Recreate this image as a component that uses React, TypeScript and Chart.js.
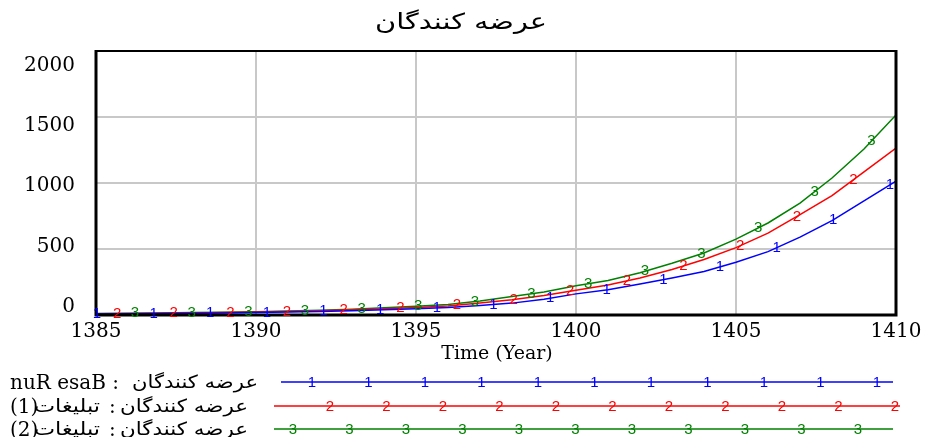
import React, { useEffect, useRef } from 'react';
import { Chart, registerables } from 'chart.js';

Chart.register(...registerables);

// ---------- data ----------
const years = [
  1385, 1386, 1387, 1388, 1389, 1390, 1391, 1392, 1393, 1394, 1395, 1396, 1397,
  1398, 1399, 1400, 1401, 1402, 1403, 1404, 1405, 1406, 1407, 1408, 1409, 1410,
];
const baseRun = [
  8, 9, 11, 13, 15, 18, 22, 27, 33, 40, 48, 57, 72, 90, 120, 160, 192, 235, 280,
  330, 400, 480, 590, 715, 865, 1015,
];
const ads1 = [
  10, 11, 13, 16, 19, 22, 27, 32, 39, 47, 57, 68, 90, 115, 148, 188, 228, 280,
  345, 420, 510, 620, 760, 905, 1085, 1265,
];
const ads2 = [
  12, 13, 15, 18, 21, 25, 30, 36, 44, 54, 66, 80, 106, 140, 175, 222, 262, 320,
  392, 470, 575, 697, 848, 1038, 1258, 1515,
];
const xTicks = [1385, 1390, 1395, 1400, 1405, 1410];
const yTicks = [0, 500, 1000, 1500, 2000];
const titleText = 'عرضه کنندگان';
const xTitle = 'Time (Year)';
const varName = 'عرضه کنندگان';
const legendLeft = ['nuR esaB :', '(1)', '(2)'];
const legendMid = ['', 'تبلیغات', 'تبلیغات'];
const markerLabels = ['1', '2', '3'];
const colors = ['#0000ff', '#ff0000', '#008000'];

const SERIF = '"DejaVu Serif", "Liberation Serif", serif';
const ARABIC = '"DejaVu Sans", sans-serif';
const MARK = '"Liberation Sans", Arial, sans-serif';

// marker phases along the plot lines (years)
const markerStart = [1385.03, 1385.66, 1386.22];
const markerStep = 1.77;

// draw text horizontally stretched to a target width
function drawFit(
  ctx: CanvasRenderingContext2D,
  text: string,
  font: string,
  left: number,
  width: number,
  baseline: number
) {
  ctx.save();
  ctx.font = font;
  ctx.textAlign = 'left';
  ctx.textBaseline = 'alphabetic';
  const w = ctx.measureText(text).width || 1;
  ctx.translate(left, baseline);
  ctx.scale(width / w, 1);
  ctx.fillText(text, 0, 0);
  ctx.restore();
}

const decorPlugin = {
  id: 'decor',
  afterDatasetsDraw(chart: any) {
    const { ctx, chartArea: a, scales } = chart;
    const xs = scales.x;
    ctx.save();
    // frame
    ctx.strokeStyle = '#000';
    ctx.lineWidth = 2;
    ctx.beginPath();
    ctx.moveTo(a.left, a.top);
    ctx.lineTo(a.right, a.top);
    ctx.stroke();
    ctx.lineWidth = 3;
    ctx.beginPath();
    ctx.moveTo(a.left, a.top - 1);
    ctx.lineTo(a.left, a.bottom);
    ctx.lineTo(a.right, a.bottom);
    ctx.lineTo(a.right, a.top - 1);
    ctx.stroke();

    // markers on lines
    ctx.font = '15px ' + MARK;
    ctx.textAlign = 'center';
    ctx.textBaseline = 'middle';
    chart.data.datasets.forEach((ds: any, i: number) => {
      const meta = chart.getDatasetMeta(i);
      const pts = meta.data;
      ctx.fillStyle = colors[i];
      for (let v = markerStart[i]; v <= 1410.001; v += markerStep) {
        const px = xs.getPixelForValue(v);
        let py = pts[pts.length - 1].y;
        for (let j = 0; j < pts.length - 1; j++) {
          if (px >= pts[j].x && px <= pts[j + 1].x) {
            const t = (px - pts[j].x) / (pts[j + 1].x - pts[j].x || 1);
            py = pts[j].y + t * (pts[j + 1].y - pts[j].y);
            break;
          }
        }
        ctx.fillText(markerLabels[i], px, py);
      }
    });
    ctx.restore();
  },
  afterDraw(chart: any) {
    const { ctx, scales } = chart;
    const xs = scales.x;
    const ys = scales.y;
    ctx.save();
    ctx.fillStyle = '#000';
    // title
    drawFit(ctx, titleText, '22px ' + ARABIC, 375, 172, 29);

    // y labels
    ctx.font = '20px ' + SERIF;
    ctx.textAlign = 'right';
    ctx.textBaseline = 'alphabetic';
    yTicks.forEach((v) => {
      const cy = ys.getPixelForValue(v) - 10 + v * 0.01125;
      ctx.fillText(String(v), 75, cy + 7);
    });
    // x labels
    ctx.textAlign = 'center';
    xTicks.forEach((v) => {
      ctx.fillText(String(v), xs.getPixelForValue(v), 337);
    });
    ctx.font = '19px ' + SERIF;
    ctx.fillText(xTitle, 497, 359);

    // legend
    const rowsY = [382, 406, 429];
    const lineStart = [281, 274, 274];
    const lineEnd = [893, 900, 893];
    const firstMark = [312, 330, 293];
    const arabicLeft = [132, 120, 120];
    const arabicRight = [258, 248, 248];
    rowsY.forEach((y, i) => {
      ctx.fillStyle = '#000';
      ctx.textAlign = 'left';
      ctx.textBaseline = 'alphabetic';
      ctx.font = '20px ' + SERIF;
      const leftTxt = legendLeft[i];
      ctx.fillText(leftTxt, 10, y + 7);
      if (legendMid[i]) {
        drawFit(ctx, legendMid[i], '18px ' + ARABIC, 34, 66, y + 6);
        ctx.font = '20px ' + SERIF;
        ctx.fillText(':', 109, y + 7);
      }
      drawFit(
        ctx,
        varName,
        '18px ' + ARABIC,
        arabicLeft[i],
        arabicRight[i] - arabicLeft[i],
        y + 6
      );

      // line
      ctx.strokeStyle = colors[i];
      ctx.lineWidth = 1.5;
      ctx.beginPath();
      ctx.moveTo(lineStart[i], y);
      ctx.lineTo(lineEnd[i], y);
      ctx.stroke();
      ctx.fillStyle = colors[i];
      ctx.font = '15px ' + MARK;
      ctx.textAlign = 'center';
      ctx.textBaseline = 'middle';
      for (let k = 0; k < 11; k++) {
        ctx.fillText(markerLabels[i], firstMark[i] + k * 56.5, y + 1);
      }
    });
    ctx.restore();
  },
};

export default function App() {
  const ref = useRef<HTMLCanvasElement | null>(null);
  useEffect(() => {
    document.body.style.margin = '0';
    const series = [baseRun, ads1, ads2];
    const chart = new Chart(ref.current as HTMLCanvasElement, {
      type: 'line',
      data: {
        datasets: series.map((s, i) => ({
          label: markerLabels[i],
          data: years.map((yr, j) => ({ x: yr, y: s[j] })),
          borderColor: colors[i],
          borderWidth: 1.5,
          pointRadius: 0,
          fill: false,
          tension: 0,
        })),
      },
      options: {
        animation: false,
        responsive: false,
        maintainAspectRatio: false,
        layout: { padding: { left: 96, top: 51, right: 29, bottom: 122 } },
        plugins: {
          legend: { display: false },
          title: { display: false },
          tooltip: { enabled: false },
        },
        scales: {
          x: {
            type: 'linear',
            min: 1385,
            max: 1410,
            ticks: { display: false, stepSize: 5 },
            grid: {
              drawTicks: false,
              lineWidth: 2,
              color: (c: any) =>
                c.tick && (c.tick.value === 1385 || c.tick.value === 1410)
                  ? 'rgba(0,0,0,0)'
                  : '#c8c8c8',
            },
            border: { display: false },
            afterFit: (s: any) => {
              s.height = 0;
            },
          },
          y: {
            type: 'linear',
            min: 0,
            max: 2000,
            ticks: { display: false, stepSize: 500 },
            grid: {
              drawTicks: false,
              lineWidth: 2,
              color: (c: any) =>
                c.tick && (c.tick.value === 0 || c.tick.value === 2000)
                  ? 'rgba(0,0,0,0)'
                  : '#c8c8c8',
            },
            border: { display: false },
            afterFit: (s: any) => {
              s.width = 0;
            },
          },
        },
      } as any,
      plugins: [decorPlugin],
    });
    return () => chart.destroy();
  }, []);
  return (
    <div style={{ width: 925, height: 437, background: '#fff' }}>
      <canvas ref={ref} width={925} height={437} style={{ display: 'block' }} />
    </div>
  );
}
